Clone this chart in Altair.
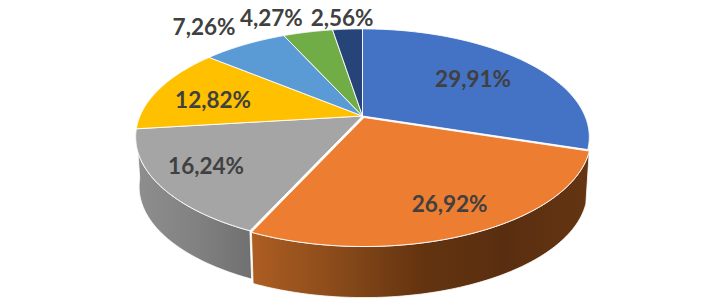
import numpy as np
import pandas as pd
import altair as alt

labels = ["29,91%", "26,92%", "16,24%", "12,82%", "7,26%", "4,27%", "2,56%"]
values = [29.91, 26.92, 16.24, 12.82, 7.26, 4.27, 2.56]
colors = ["#4472C4", "#ED7D31", "#A5A5A5", "#FFC000", "#5B9BD5", "#70AD47", "#264478"]
label_radius = [0.649, 0.807, 0.783, 0.707, 1.324, 1.245, 1.145]
label_turn = [1.3, -0.75, 1.2, -4.0, -2.4, -6.8, -1.0]
# exploded offset per slice, in screen pixels
shift_x = [0, 1.5, 0, 0, 0, 0, 0]
shift_y = [0, 1.5, 0, 0, 0, 0, 0]
side_stops = {
    0: ["#2A4678", "#2A4678"],
    1: ["#AD5E22", "#8A4B1A", "#643410", "#592E10", "#653512"],
    2: ["#8E8E8E", "#828282", "#707070"],
}
side_depth = {0: 51.0, 1: 53.0, 2: 50.0}

CX, CY, A, B, K = 362.5, 116.0, 222.5, 104.0, 0.194
SHRINK = 0.985

frac = np.array(values) / sum(values)
edges = np.concatenate([[0], np.cumsum(frac) * 360])


def project(theta_deg, r=1.0):
    t = np.radians(theta_deg)
    c, s = r * np.sin(t), r * np.cos(t)
    w = 1 + K * s
    return CX + A * c / w, CY - B * s / w


def poly(xs, ys, color_fill, sw=1.0, stroke="white"):
    df = pd.DataFrame({"x": xs, "y": ys, "i": np.arange(len(xs))})
    return (
        alt.Chart(df)
        .mark_line(fill=color_fill, stroke=stroke, strokeWidth=sw, interpolate="linear")
        .encode(
            x=alt.X("x:Q", scale=alt.Scale(domain=[8, 716]), axis=None),
            y=alt.Y("y:Q", scale=alt.Scale(domain=[298, 8]), axis=None),
            order=alt.Order("i:Q"),
        )
    )


layers = []
for idx, st in side_stops.items():
    start = max(edges[idx], 100.0)
    th = np.linspace(start, edges[idx + 1], 90)
    x, y = project(th)
    xb = CX + (x - CX) * SHRINK
    yb = CY + (y - CY) * SHRINK + side_depth[idx]
    xs = np.concatenate([x, xb[::-1], x[:1]]) + shift_x[idx]
    ys = np.concatenate([y, yb[::-1], y[:1]]) + shift_y[idx]
    grad = alt.Gradient(
        gradient="linear",
        x1=0, x2=1, y1=0, y2=0,
        stops=[alt.GradientStop(color=c, offset=i / (len(st) - 1)) for i, c in enumerate(st)],
    )
    layers.append(poly(xs, ys, grad, 0.8))

for idx, col in enumerate(colors):
    th = np.linspace(edges[idx], edges[idx + 1], 120)
    x, y = project(th)
    xs = np.concatenate([[CX], x, [CX]]) + shift_x[idx]
    ys = np.concatenate([[CY], y, [CY]]) + shift_y[idx]
    layers.append(poly(xs, ys, col, 0.9))

mids = (edges[:-1] + edges[1:]) / 2 + np.array(label_turn)
lx, ly = project(mids, np.array(label_radius))
text_df = pd.DataFrame({"x": lx, "y": ly, "t": labels})
layers.append(
    alt.Chart(text_df)
    .mark_text(font="Lato", fontWeight="bold", fontSize=22.5, color="#404040", align="center", baseline="middle")
    .encode(
        x=alt.X("x:Q", scale=alt.Scale(domain=[8, 716]), axis=None),
        y=alt.Y("y:Q", scale=alt.Scale(domain=[298, 8]), axis=None),
        text="t:N",
    )
)

chart = (
    alt.layer(*layers)
    .properties(width=708, height=290, padding=0, autosize=alt.AutoSizeParams(type="none"))
    .configure_view(stroke=None)
)
chart.save("out.html", embed_options={"renderer": "svg", "actions": False})
